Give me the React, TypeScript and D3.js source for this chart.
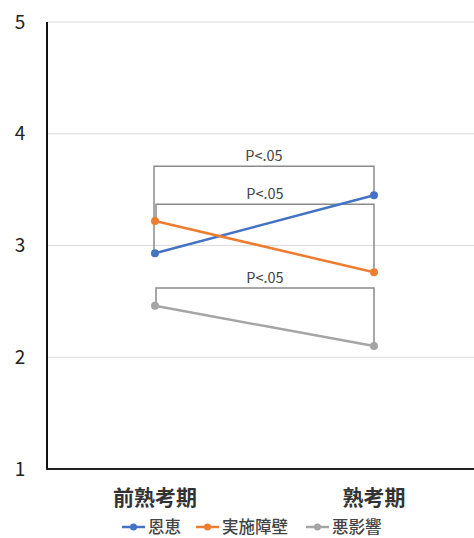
import React, { useEffect, useRef } from "react";
import * as d3 from "d3";

const categories = ["前熟考期", "熟考期"];
const seriesNames = ["恩恵", "実施障壁", "悪影響"];
const benefit = [2.93, 3.45];
const barrier = [3.22, 2.76];
const harm = [2.46, 2.1];
const yTicks = [1, 2, 3, 4, 5];
const sigLabels = ["P<.05", "P<.05", "P<.05"];
// bracket heights in data units
const bracketLevels = [3.71, 3.37, 2.62];

const colors = ["#4472C4", "#ED7D31", "#A5A5A5"];
const font = "'Noto Sans CJK JP', 'Noto Sans', sans-serif";

const App = () => {
  const ref = useRef<SVGSVGElement>(null);

  useEffect(() => {
    const svg = d3.select(ref.current);
    svg.selectAll("*").remove();
    const width = 474;
    const height = 538;

    const x = d3.scalePoint().domain(categories).range([155, 374]);
    const y = d3.scaleLinear().domain([1, 5]).range([469, 22]);

    // gridlines
    svg
      .append("g")
      .selectAll("line")
      .data(yTicks.slice(1))
      .enter()
      .append("line")
      .attr("x1", 47)
      .attr("x2", width)
      .attr("y1", (d) => y(d))
      .attr("y2", (d) => y(d))
      .attr("stroke", "#dcdcdc")
      .attr("stroke-width", 1);

    // axes
    svg
      .append("line")
      .attr("x1", 47)
      .attr("x2", 47)
      .attr("y1", y(5))
      .attr("y2", y(1))
      .attr("stroke", "#111")
      .attr("stroke-width", 2);
    svg
      .append("line")
      .attr("x1", 46)
      .attr("x2", width)
      .attr("y1", y(1))
      .attr("y2", y(1))
      .attr("stroke", "#222")
      .attr("stroke-width", 2);

    svg
      .append("g")
      .selectAll("text")
      .data(yTicks)
      .enter()
      .append("text")
      .attr("x", 20)
      .attr("y", (d) => y(d))
      .attr("dy", "0.35em")
      .attr("text-anchor", "middle")
      .attr("font-family", font)
      .attr("font-size", 19)
      .attr("fill", "#222")
      .text((d) => d);

    svg
      .append("g")
      .selectAll("text")
      .data(categories)
      .enter()
      .append("text")
      .attr("x", (d) => x(d)!)
      .attr("y", 498)
      .attr("dy", "0.35em")
      .attr("text-anchor", "middle")
      .attr("font-family", font)
      .attr("font-size", 21)
      .attr("font-weight", "bold")
      .attr("fill", "#333")
      .text((d) => d);

    // significance brackets
    const allSeries = [benefit, barrier, harm];
    allSeries.forEach((vals, i) => {
      const yl = y(bracketLevels[i]);
      const x0 = x(categories[0])! + (i === 0 ? -1 : 1);
      const x1 = x(categories[1])!;
      svg
        .append("path")
        .attr(
          "d",
          `M${x0},${y(vals[0])}V${yl}H${x1}V${y(vals[1])}`
        )
        .attr("fill", "none")
        .attr("stroke", "#8a8a8a")
        .attr("stroke-width", 1.5);
      svg
        .append("text")
        .attr("x", (x0 + x1) / 2)
        .attr("y", yl - 10)
        .attr("dy", "0.35em")
        .attr("text-anchor", "middle")
        .attr("font-family", font)
        .attr("font-size", 14.5)
        .attr("fill", "#444")
        .text(sigLabels[i]);
    });

    // series lines
    const line = d3
      .line<number>()
      .x((d, i) => x(categories[i])!)
      .y((d) => y(d));

    allSeries.forEach((vals, i) => {
      svg
        .append("path")
        .attr("d", line(vals))
        .attr("fill", "none")
        .attr("stroke", colors[i])
        .attr("stroke-width", 2.5);
      svg
        .append("g")
        .selectAll("circle")
        .data(vals)
        .enter()
        .append("circle")
        .attr("cx", (d, j) => x(categories[j])!)
        .attr("cy", (d) => y(d))
        .attr("r", 4)
        .attr("fill", colors[i]);
    });

    // legend
    const legendX = [122, 196, 306];
    const lg = svg
      .append("g")
      .selectAll("g")
      .data(seriesNames)
      .enter()
      .append("g")
      .attr("transform", (d, i) => `translate(${legendX[i]},527)`);
    lg.append("line")
      .attr("x1", 0)
      .attr("x2", 23)
      .attr("stroke", (d, i) => colors[i])
      .attr("stroke-width", 2.5);
    lg.append("circle")
      .attr("cx", 11.5)
      .attr("r", 3.5)
      .attr("fill", (d, i) => colors[i]);
    lg.append("text")
      .attr("x", 26)
      .attr("dy", "0.35em")
      .attr("font-family", font)
      .attr("font-size", 16.5)
      .attr("font-weight", 500)
      .attr("fill", "#444")
      .text((d) => d);

    svg.attr("width", width).attr("height", height);
  }, []);

  return (
    <svg
      ref={ref}
      width={474}
      height={538}
      style={{ position: "absolute", left: 0, top: 0, background: "#fff" }}
    ></svg>
  );
};

export default App;
